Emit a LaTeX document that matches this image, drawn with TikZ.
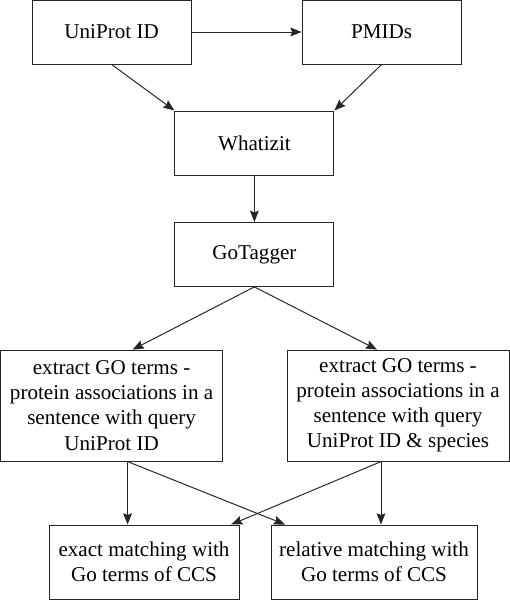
\documentclass[tikz,border=0pt]{standalone}
\usepackage{fontspec}
\setmainfont{Liberation Serif}
\usetikzlibrary{arrows.meta, positioning}

\begin{document}
\begin{tikzpicture}[
    box/.style={draw=black!85, line width=0.7pt, inner sep=0pt, align=center,
                font=\fontsize{15}{17.8}\selectfont},
    smallbox/.style={box, minimum width=3.975cm, minimum height=1.6cm},
    wordbox/.style={box, minimum width=5.55cm, minimum height=2.775cm},
    matchbox/.style={box, minimum width=4.75cm, minimum height=1.85cm},
    link/.style={draw=black!85, line width=0.7pt, -{Stealth[length=2.8mm, width=2.2mm, inset=0.4mm]}}
]
\useasboundingbox (0,0) rectangle (12.75,-15);

% Input boxes on the top row
\node[smallbox] (uniprot) at (2.79,-0.8) {UniProt ID};
\node[smallbox] (pmids) at (9.54,-0.8) {PMIDs};

% Text mining steps
\node[smallbox] (whatizit) at (6.36,-3.575) {Whatizit};
\node[smallbox] (gotagger) at (6.36,-6.36) {GoTagger};

% Extraction of associations
\node[wordbox] (extractid) at (2.79,-10.14) {extract GO terms -\\protein associations in a\\sentence with query\\UniProt ID};
\node[wordbox] (extractsp) at (9.95,-10.14) {extract GO terms -\\protein associations in a\\sentence with query\\UniProt ID \& species};

% Matching boxes at the bottom
\node[matchbox] (exact) at (3.6,-14.05) {exact matching with\\Go terms of CCS};
\node[matchbox, minimum width=5.15cm] (relative) at (9.35,-14.05) {relative matching with\\Go terms of CCS};

% Arrows between the upper boxes
\draw[link] (uniprot) -- (pmids);
\draw[link] (uniprot.south) -- (whatizit.north west);
\draw[link] (pmids.south) -- (whatizit.north east);
\draw[link] (whatizit) -- (gotagger);

% GoTagger splits into the two extraction boxes
\draw[link] (gotagger.south) -- ([xshift=0.525cm]extractid.north);
\draw[link] (gotagger.south) -- ([xshift=-0.525cm]extractsp.north);

% Crossing arrows down to the matching boxes
\coordinate (idout) at ([xshift=0.4cm]extractid.south);
\coordinate (spout) at ([xshift=-0.425cm]extractsp.south);
\draw[link] (idout) -- (idout |- exact.north);
\draw[link] (idout) -- ([xshift=-2.225cm]relative.north);
\draw[link] (spout) -- (spout |- relative.north);
\draw[link] (spout) -- ([xshift=2.18cm]exact.north);

\end{tikzpicture}
\end{document}
